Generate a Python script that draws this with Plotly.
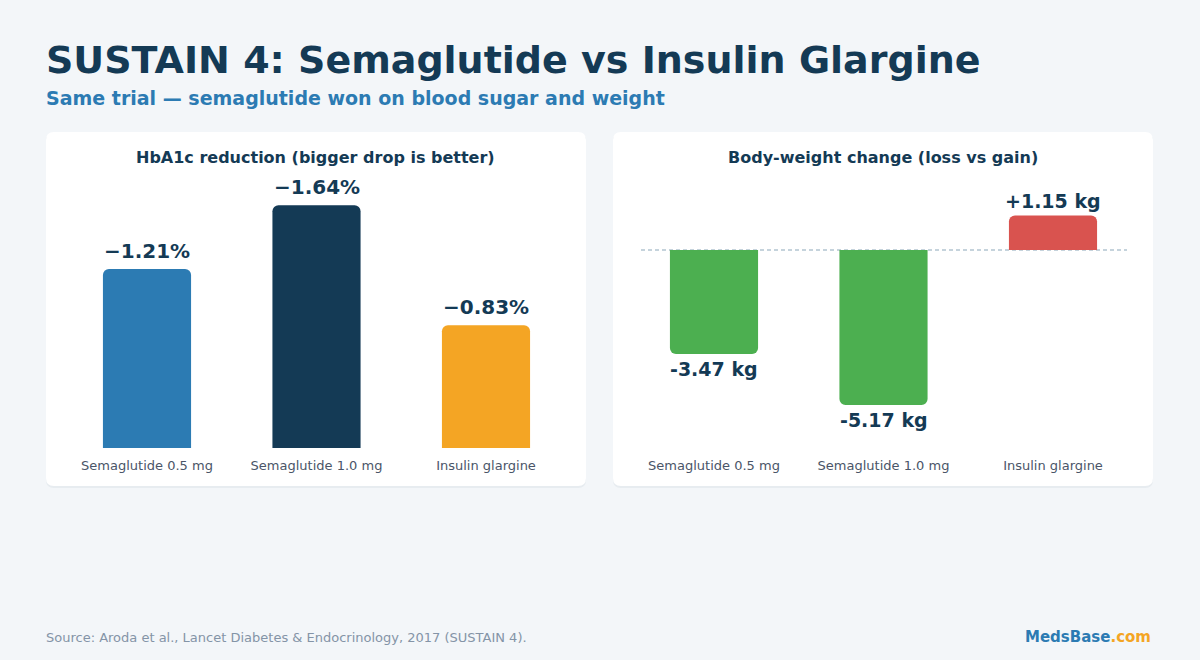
import plotly.graph_objects as go

W, H = 1200, 660

categories = ["Semaglutide 0.5 mg", "Semaglutide 1.0 mg", "Insulin glargine"]
hba1c_change = [-1.21, -1.64, -0.83]          # % points
weight_change = [-3.47, -5.17, 1.15]          # kg
hba1c_colors = ["#2c7bb3", "#143a55", "#f4a524"]
weight_colors = ["#4caf50", "#4caf50", "#d9534f"]

title = "SUSTAIN 4: Semaglutide vs Insulin Glargine"
subtitle = "Same trial — semaglutide won on blood sugar and weight"
left_title = "HbA1c reduction (bigger drop is better)"
right_title = "Body-weight change (loss vs gain)"
source = "Source: Aroda et al., Lancet Diabetes & Endocrinology, 2017 (SUSTAIN 4)."

NAVY = "#143a55"
FONT = "DejaVu Sans"


def px_x(x):
    return x / W


def px_y(y):
    return 1 - y / H


def rounded_rect(x0, y0, x1, y1, r):
    p = lambda x, y: f"{px_x(x):.5f},{px_y(y):.5f}"
    return (
        f"M {p(x0 + r, y0)} L {p(x1 - r, y0)} Q {p(x1, y0)} {p(x1, y0 + r)} "
        f"L {p(x1, y1 - r)} Q {p(x1, y1)} {p(x1 - r, y1)} "
        f"L {p(x0 + r, y1)} Q {p(x0, y1)} {p(x0, y1 - r)} "
        f"L {p(x0, y0 + r)} Q {p(x0, y0)} {p(x0 + r, y0)} Z"
    )


fig = go.Figure()

# left: HbA1c reduction shown as magnitude of drop
fig.add_trace(go.Bar(
    x=categories, y=[-v for v in hba1c_change],
    marker=dict(color=hba1c_colors, line=dict(width=0)),
    width=0.52, xaxis="x", yaxis="y", showlegend=False, hoverinfo="skip",
))
fig.add_trace(go.Bar(
    x=categories, y=weight_change,
    marker=dict(color=weight_colors, line=dict(width=0)),
    width=0.52, xaxis="x2", yaxis="y2", showlegend=False, hoverinfo="skip",
))

annotations = []
for c, v in zip(categories, hba1c_change):
    annotations.append(dict(
        x=c, y=-v, xref="x", yref="y", text=f"<b>−{abs(v):.2f}%</b>",
        showarrow=False, yanchor="bottom", yshift=4,
        font=dict(family=FONT, size=20, color=NAVY),
    ))
for c, v in zip(categories, weight_change):
    annotations.append(dict(
        x=c, y=v, xref="x2", yref="y2", text=f"<b>{v:+.2f} kg</b>",
        showarrow=False, yanchor="bottom" if v > 0 else "top",
        yshift=2 if v > 0 else -2,
        font=dict(family=FONT, size=19, color=NAVY),
    ))

annotations += [
    dict(x=px_x(44), y=px_y(60), xref="paper", yref="paper", xanchor="left",
         yanchor="middle", showarrow=False, text=f"<b>{title}</b>",
         font=dict(family=FONT, size=38, color=NAVY)),
    dict(x=px_x(44), y=px_y(98), xref="paper", yref="paper", xanchor="left",
         yanchor="middle", showarrow=False, text=f"<b>{subtitle}</b>",
         font=dict(family=FONT, size=19, color="#2c7bb3")),
    dict(x=px_x(316), y=px_y(157), xref="paper", yref="paper", xanchor="center",
         yanchor="middle", showarrow=False, text=f"<b>{left_title}</b>",
         font=dict(family=FONT, size=16, color=NAVY)),
    dict(x=px_x(883), y=px_y(157), xref="paper", yref="paper", xanchor="center",
         yanchor="middle", showarrow=False, text=f"<b>{right_title}</b>",
         font=dict(family=FONT, size=16, color=NAVY)),
    dict(x=px_x(44), y=px_y(637), xref="paper", yref="paper", xanchor="left",
         yanchor="middle", showarrow=False, text=source,
         font=dict(family=FONT, size=13, color="#8494a7")),
    dict(x=px_x(1153), y=px_y(637), xref="paper", yref="paper", xanchor="right",
         yanchor="middle", showarrow=False,
         text="<b><span style='color:#2c7bb3'>MedsBase</span><span style='color:#f4a524'>.com</span></b>",
         font=dict(family=FONT, size=15, color="#2c7bb3")),
]

shapes = []
for (x0, x1) in [(46, 586), (613, 1153)]:
    shapes.append(dict(type="path", xref="paper", yref="paper",
                       path=rounded_rect(x0, 133, x1, 488, 8),
                       fillcolor="rgba(20,58,85,0.05)", line=dict(width=0), layer="below"))
    shapes.append(dict(type="path", xref="paper", yref="paper",
                       path=rounded_rect(x0, 132, x1, 486, 8),
                       fillcolor="#ffffff", line=dict(width=0), layer="below"))
shapes.append(dict(type="line", xref="paper", yref="y2", x0=px_x(641), x1=px_x(1127),
                   y0=0, y1=0, line=dict(color="#b3c5d1", width=1.5, dash="4px,3px"),
                   layer="below"))

dom_y = [px_y(448), px_y(180)]
axis_common = dict(showgrid=False, zeroline=False, showline=False, ticks="",
                   ticklabelstandoff=8,
                   tickfont=dict(family=FONT, size=13, color="#4a5568"), fixedrange=True)

fig.update_layout(
    width=W, height=H,
    margin=dict(l=0, r=0, t=0, b=0),
    paper_bgcolor="#f3f6f9", plot_bgcolor="rgba(0,0,0,0)",
    barcornerradius=6,
    font=dict(family=FONT),
    xaxis=dict(domain=[px_x(62.25), px_x(570.75)], range=[-0.5, 2.5], anchor="y",
               **axis_common),
    yaxis=dict(domain=dom_y, range=[0, 268 / 148], visible=False, fixedrange=True),
    xaxis2=dict(domain=[px_x(629.25), px_x(1137.75)], range=[-0.5, 2.5], anchor="y2",
                **axis_common),
    yaxis2=dict(domain=dom_y, range=[-198 / 30, 70 / 30], visible=False, fixedrange=True),
    annotations=annotations,
    shapes=shapes,
)

fig.write_html("out.html")
